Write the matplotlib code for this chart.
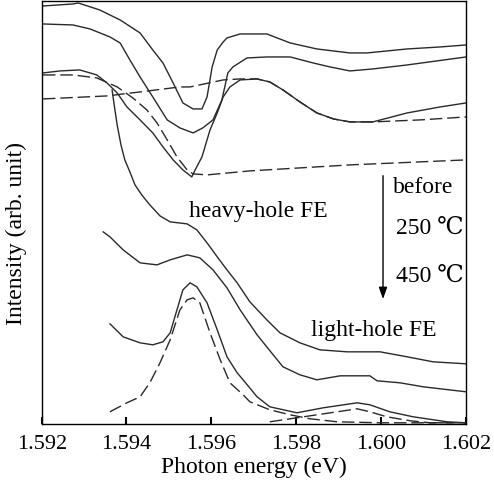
import numpy as np
import matplotlib
matplotlib.use("Agg")
import matplotlib.pyplot as plt

plt.rcParams['font.family'] = ['Liberation Serif', 'DejaVu Serif']

# photon energy (eV) / intensity (arb. unit)
e1 = [1.59203, 1.59274, 1.59286, 1.59337, 1.59385, 1.59432, 1.59462, 1.59486, 1.59510, 1.59533,
      1.59557, 1.59578, 1.59590, 1.59602, 1.59614, 1.59628, 1.59637, 1.59668, 1.59731, 1.59786,
      1.59849, 1.59927, 1.59967, 1.60062, 1.60140, 1.60201]
i1 = [418, 420, 421, 414, 404, 391, 374, 361, 341, 321,
      315, 315, 327, 357, 374, 382, 386, 390, 390, 381,
      375, 371, 371, 375, 377, 379]

e2 = [1.59203, 1.59274, 1.59314, 1.59361, 1.59385, 1.59408, 1.59432, 1.59462, 1.59496, 1.59526,
      1.59557, 1.59580, 1.59604, 1.59625, 1.59639, 1.59651, 1.59684, 1.59731, 1.59786, 1.59840,
      1.59880, 1.59927, 1.59981, 1.60062, 1.60201]
i2 = [400, 399, 395, 387, 381, 364, 347, 327, 304, 296,
      291, 296, 304, 324, 351, 357, 366, 367, 367, 361,
      357, 353, 355, 359, 367]

e3 = [1.59203, 1.59243, 1.59290, 1.59330, 1.59354, 1.59378, 1.59401, 1.59432, 1.59462, 1.59486,
      1.59510, 1.59533, 1.59554, 1.59562, 1.59578, 1.59597, 1.59614, 1.59628, 1.59644, 1.59668,
      1.59708, 1.59738, 1.59769, 1.59809, 1.59849, 1.59888, 1.59927, 1.59981, 1.60062, 1.60140,
      1.60201]
i3 = [351, 353, 354, 349, 341, 331, 317, 304, 291, 277,
      264, 254, 247, 254, 267, 294, 311, 327, 337, 344,
      345, 342, 334, 322, 311, 305, 302, 302, 311, 317,
      321]

# fitted components (dashed)
fit_a_e = [1.59203, 1.59274, 1.59330, 1.59378, 1.59415, 1.59448, 1.59472, 1.59496, 1.59519, 1.59543,
           1.59557, 1.59590, 1.59691, 1.59927, 1.60201]
fit_a_i = [349, 349, 346, 337, 326, 314, 301, 284, 267, 254,
           250, 249, 253, 259, 264]

fit_b_e = [1.59203, 1.59354, 1.59432, 1.59526, 1.59550, 1.59628, 1.59668, 1.59708, 1.59738, 1.59769,
           1.59809, 1.59849, 1.59888, 1.59927, 1.59981, 1.60092, 1.60201]
fit_b_i = [325, 328, 332, 337, 337, 344, 345, 345, 342, 334,
           322, 311, 305, 302, 302, 304, 307]

e4 = [1.59366, 1.59371, 1.59378, 1.59387, 1.59396, 1.59408, 1.59420, 1.59436, 1.59455, 1.59479,
      1.59503, 1.59543, 1.59566, 1.59590, 1.59614, 1.59637, 1.59661, 1.59691, 1.59731, 1.59762,
      1.59809, 1.59856, 1.59920, 1.59998, 1.60062, 1.60123, 1.60201]
i4 = [334, 319, 299, 279, 264, 252, 239, 229, 219, 208,
      202, 200, 194, 181, 167, 154, 141, 122, 104, 91,
      81, 74, 72, 72, 67, 62, 60]

e5 = [1.59345, 1.59361, 1.59392, 1.59432, 1.59472, 1.59503, 1.59543, 1.59573, 1.59604, 1.59637,
      1.59668, 1.59708, 1.59746, 1.59769, 1.59809, 1.59849, 1.59904, 1.59974, 1.59991, 1.60045,
      1.60100, 1.60201]
i5 = [192, 187, 174, 161, 159, 164, 169, 166, 154, 136,
      114, 89, 69, 57, 49, 44, 48, 48, 43, 41,
      37, 32]

e6 = [1.59361, 1.59392, 1.59432, 1.59462, 1.59486, 1.59503, 1.59519, 1.59533, 1.59550, 1.59566,
      1.59590, 1.59614, 1.59637, 1.59661, 1.59675, 1.59708, 1.59738, 1.59802, 1.59864, 1.59944,
      1.59974, 1.60021, 1.60076, 1.60156, 1.60201]
i6 = [100, 87, 81, 79, 82, 91, 114, 134, 141, 137,
      121, 94, 67, 51, 44, 27, 17, 11, 16, 21,
      19, 12, 7, 2, 1]

# heavy-hole and light-hole FE peaks (dashed)
hh_e = [1.59361, 1.59401, 1.59432, 1.59455, 1.59479, 1.59503, 1.59526, 1.59543, 1.59557, 1.59573,
        1.59597, 1.59621, 1.59644, 1.59675, 1.59691, 1.59738, 1.59786, 1.59833, 1.59897, 1.59998,
        1.60201]
hh_i = [12, 21, 27, 41, 61, 84, 114, 124, 126, 121,
        91, 64, 41, 29, 22, 14, 9, 5, 2, 1,
        1]

lh_e = [1.59738, 1.59802, 1.59849, 1.59897, 1.59944, 1.59974, 1.60014, 1.60069, 1.60116, 1.60201]
lh_i = [2, 6, 9, 12, 15, 12, 7, 3, 1, 1]

xticks = [1.592, 1.594, 1.596, 1.598, 1.600, 1.602]

fig = plt.figure(figsize=(4.94, 4.86), dpi=100)
ax = fig.add_axes([0.0844, 0.128, 0.8583, 0.870])

col = '#2a2a2a'
dash = (9, 3.5)
for e, i in [(e1, i1), (e2, i2), (e3, i3), (e4, i4), (e5, i5), (e6, i6)]:
    ax.plot(e, i, color=col, lw=1.0)
for e, i in [(fit_a_e, fit_a_i), (fit_b_e, fit_b_i), (hh_e, hh_i), (lh_e, lh_i)]:
    ax.plot(e, i, color=col, lw=1.0, dashes=dash)

ax.set_xlim(1.592, 1.602)
ax.set_ylim(0, 423)
ax.set_xticks(xticks)
ax.set_xticklabels(['%.3f' % t for t in xticks])
ax.set_yticks([])
ax.tick_params(axis='x', direction='in', length=5, width=1.5, pad=8, labelsize=16)
for s in ax.spines.values():
    s.set_linewidth(1.0)

ax.set_xlabel('Photon energy (eV)', fontsize=17)
ax.xaxis.set_label_coords(0.5, -0.078)
ax.set_ylabel('Intensity (arb. unit)', fontsize=17)
ax.yaxis.set_label_coords(-0.034, 0.45)

ax.text(1.59711, 212, 'heavy-hole FE', fontsize=17, ha='center', va='center')
ax.text(1.59983, 93, 'light-hole FE', fontsize=17, ha='center', va='center')
ax.text(1.60029, 236, 'before', fontsize=17, ha='left', va='center')
ax.text(1.60036, 196, '250 ℃', fontsize=17, ha='left', va='center')
ax.text(1.60036, 148, '450 ℃', fontsize=17, ha='left', va='center')
ax.annotate('', xy=(1.60005, 122), xytext=(1.60005, 251),
            arrowprops=dict(arrowstyle='-|>,head_length=0.7,head_width=0.25', color='black', lw=1.0))

fig.savefig('out.png', dpi=100)
